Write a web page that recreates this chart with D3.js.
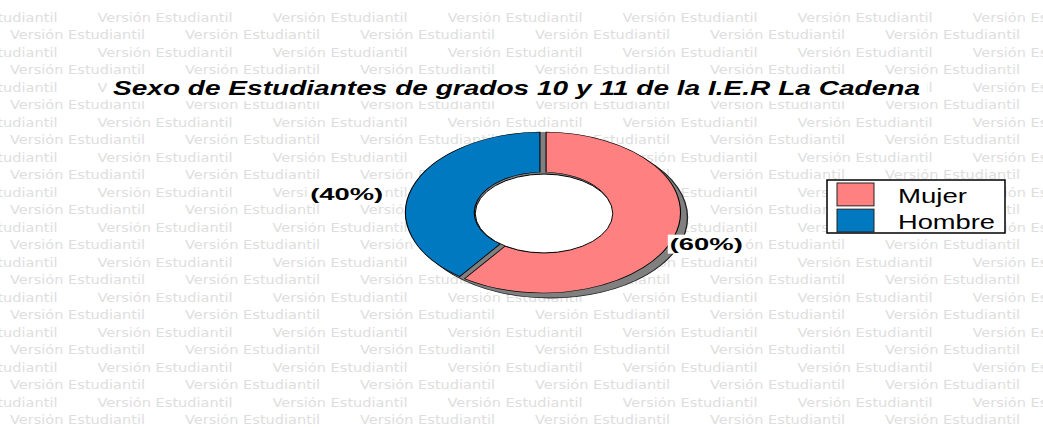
<!DOCTYPE html>
<html><head><meta charset="utf-8">
<script src="https://cdn.jsdelivr.net/npm/d3@7"></script>
<style>html,body{margin:0;padding:0;background:#fff;}svg{display:block;}</style>
</head><body>
<script>
const categories = ["Mujer", "Hombre"];
const values = [60, 40];
const labels = ["(60%)", "(40%)"];
const colors = ["#FF8080", "#0079C1"];
const title = "Sexo de Estudiantes de grados 10 y 11 de la I.E.R La Cadena";
const watermark = "Versión Estudiantil";

const W = 1043, H = 427;
const svg = d3.select("body").append("svg").attr("width", W).attr("height", H);

const titleBox = {x: 107, y: 78, w: 820, h: 23};

// watermark
const wm = svg.append("g");
for (let r = 0; r < 25; r++) {
  const y = 21.5 + r * 17.5;
  const off = r % 2 === 0 ? -77.5 : 10;
  for (let x = off; x < W; x += 175) {
    const hidden = y - 9 > titleBox.y && y < titleBox.y + titleBox.h && x >= titleBox.x && x + 135 <= titleBox.x + titleBox.w;
    if (hidden) continue;
    wm.append("text").attr("x", x).attr("y", y).text(watermark)
      .attr("font-family", "DejaVu Sans").attr("font-size", 11.5)
      .attr("fill", "#dedede").attr("textLength", 135).attr("lengthAdjust", "spacingAndGlyphs");
  }
}

// title
svg.append("rect").attr("x", titleBox.x).attr("y", titleBox.y).attr("width", titleBox.w).attr("height", titleBox.h).attr("fill", "#fff");
svg.append("text").attr("x", 516.5).attr("y", 95).attr("text-anchor", "middle")
  .attr("font-family", "Liberation Sans, Arial").attr("font-weight", "bold").attr("font-style", "italic")
  .attr("font-size", 20).attr("textLength", 807).attr("lengthAdjust", "spacingAndGlyphs")
  .text(title);

// donut
const cx = 543, cy = 212.5, rx = 137.5, ry = 80.5, inner = 0.5;
const sy = ry / rx;
const pie = d3.pie().sort(null).value(d => d)(values);
const arc = d3.arc().innerRadius(rx * inner).outerRadius(rx);
const ringArc = d3.arc().innerRadius(rx * inner).outerRadius(rx).startAngle(0).endAngle(2 * Math.PI);

// shadow
svg.append("path").attr("d", ringArc())
  .attr("transform", `translate(${cx + 7},${cy + 5}) scale(1,${sy})`)
  .attr("fill", "#808080").attr("stroke", "#222").attr("stroke-width", 1 / sy * 0.8);
// base (gaps)
svg.append("path").attr("d", ringArc())
  .attr("transform", `translate(${cx},${cy}) scale(1,${sy})`)
  .attr("fill", "#808080");

const sl = svg.append("g").attr("transform", `translate(${cx},${cy}) scale(1,${sy})`);
sl.selectAll("path").data(pie).join("path")
  .attr("d", arc.padAngle(0.04))
  .attr("fill", (d, i) => colors[i])
  .attr("stroke", "#000").attr("stroke-width", 1.1);

// hole
svg.append("ellipse").attr("cx", cx + 1).attr("cy", cy + 1).attr("rx", rx * inner).attr("ry", ry * 0.49)
  .attr("fill", "#fff").attr("stroke", "#000").attr("stroke-width", 1);

// labels
pie.forEach((d, i) => {
  const a = (d.startAngle + d.endAngle) / 2;
  const ex = cx + Math.sin(a) * rx;
  const ey = cy - Math.cos(a) * ry;
  const right = Math.sin(a) > 0;
  const tx = right ? ex - 4 : ex - 29;
  const ty = ey + 12.3;
  const g = svg.append("g");
  const w = 73;
  const x0 = right ? tx : tx - w;
  g.append("rect").attr("x", x0 - 2).attr("y", ty - 15).attr("width", w + 4).attr("height", 19).attr("fill", "#fff");
  g.append("text").attr("x", x0).attr("y", ty)
    .attr("font-family", "Liberation Sans, Arial").attr("font-weight", "bold").attr("font-size", 17)
    .attr("textLength", w).attr("lengthAdjust", "spacingAndGlyphs").text(labels[i]);
});

// legend
const lg = svg.append("g");
lg.append("rect").attr("x", 827).attr("y", 180).attr("width", 178).attr("height", 53)
  .attr("fill", "#fff").attr("stroke", "#000").attr("stroke-width", 1.5);
const ly = d3.scaleBand().domain(categories).range([182, 233]).paddingInner(0.05);
const tw = [69, 97];
categories.forEach((c, i) => {
  lg.append("rect").attr("x", 837).attr("y", ly(c) + 1).attr("width", 37).attr("height", ly.bandwidth() - 2)
    .attr("fill", colors[i]).attr("stroke", "#222").attr("stroke-width", 1);
  lg.append("text").attr("x", 898).attr("y", ly(c) + ly.bandwidth() - 4)
    .attr("font-family", "Liberation Sans, Arial").attr("font-size", 20)
    .attr("textLength", tw[i]).attr("lengthAdjust", "spacingAndGlyphs").text(c);
});
</script>
</body></html>
